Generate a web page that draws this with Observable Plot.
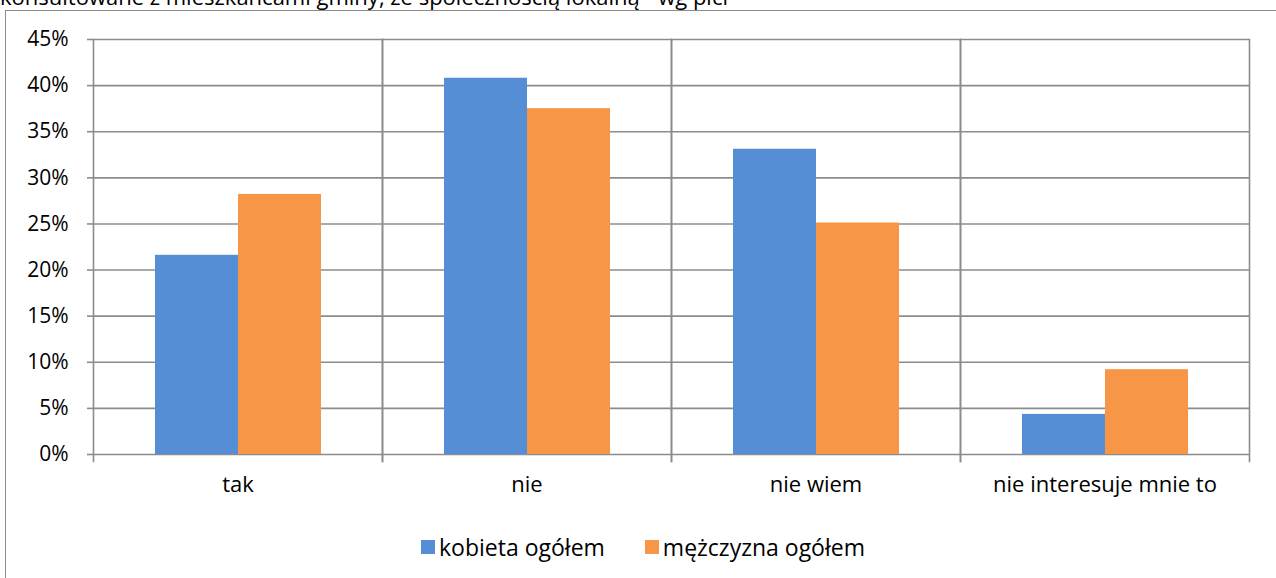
<!DOCTYPE html>
<html>
<head>
<meta charset="utf-8">
<script src="https://cdn.jsdelivr.net/npm/d3@7"></script>
<script src="https://cdn.jsdelivr.net/npm/@observablehq/plot@0.6"></script>
<style>
  html, body { margin: 0; padding: 0; background: #fff; overflow: hidden; }
  body { width: 1276px; height: 578px; position: relative; font-family: "Open Sans", sans-serif; color: #000; }
  #title { position: absolute; left: 0; top: -15px; font-size: 22px; line-height: 22px; white-space: nowrap; }
  #frame { position: absolute; left: 5px; top: 10px; width: 1400px; height: 700px; border-top: 1.5px solid #8c8c8c; border-left: 1.5px solid #8c8c8c; }
  #chart { position: absolute; left: 0; top: 0; }
  #legend { position: absolute; left: 421px; top: 533px; display: flex; align-items: center; font-size: 23px; line-height: 28px; }
  .item { display: flex; align-items: center; }
  .sw { width: 14px; height: 14px; margin-right: 4px; }
</style>
</head>
<body>
<div id="title"></div>
<div id="frame"></div>
<div id="chart"></div>
<div id="legend"></div>
<script>
const titleText = "konsultowane z mieszkańcami gminy, ze społecznością lokalną - wg płci";
const categories = ["tak", "nie", "nie wiem", "nie interesuje mnie to"];
const series = ["kobieta ogółem", "mężczyzna ogółem"];
const kobieta = [0.216, 0.408, 0.331, 0.0435];
const mezczyzna = [0.282, 0.375, 0.251, 0.092];
const yTicks = [0, 0.05, 0.10, 0.15, 0.20, 0.25, 0.30, 0.35, 0.40, 0.45];
const colors = ["#558ed5", "#f79646"];

const values = [kobieta, mezczyzna];
const data = [];
categories.forEach((c, i) => {
  series.forEach((s, j) => data.push({category: c, series: s, value: values[j][i]}));
});

document.getElementById("title").textContent = titleText;

const gridColor = "#8c8c8c";
const chart = Plot.plot({
  width: 1276,
  height: 520,
  marginLeft: 92,
  marginRight: 27,
  marginTop: 39,
  marginBottom: 66,
  style: {fontFamily: "Open Sans, sans-serif", fontSize: "22px", color: "#000", background: "transparent", overflow: "visible"},
  fx: {domain: categories, padding: 0, label: null, axis: null},
  x: {domain: series, paddingInner: 0, paddingOuter: 0.74, axis: null},
  y: {domain: [0, 0.45], label: null, axis: null},
  color: {domain: series, range: colors},
  marks: [
    Plot.gridY(yTicks, {stroke: gridColor, strokeOpacity: 1, strokeWidth: 1.6}),
    Plot.frame({anchor: "left", stroke: gridColor, strokeWidth: 1.6, insetBottom: -7}),
    Plot.frame({anchor: "right", stroke: gridColor, strokeWidth: 1.6, insetBottom: -7}),
    Plot.barY(data, {fx: "category", x: "series", y: "value", fill: "series"}),
    Plot.axisY(yTicks, {tickSize: 6, tickPadding: 19, stroke: gridColor, strokeWidth: 1.6, strokeOpacity: 1,
      tickFormat: d => Math.round(d * 100) + "%", fontSize: 21, fill: "#000", label: null}),
    Plot.axisFx({anchor: "bottom", tickSize: 0, tickPadding: 22, fontSize: 22, fill: "#000", label: null})
  ]
});
document.getElementById("chart").appendChild(chart);

const legend = document.getElementById("legend");
series.forEach((s, i) => {
  const item = document.createElement("div");
  item.className = "item";
  if (i > 0) item.style.marginLeft = "40px";
  const sw = document.createElement("div");
  sw.className = "sw";
  sw.style.background = colors[i];
  const t = document.createElement("span");
  t.textContent = s;
  item.appendChild(sw);
  item.appendChild(t);
  legend.appendChild(item);
});
</script>
</body>
</html>
